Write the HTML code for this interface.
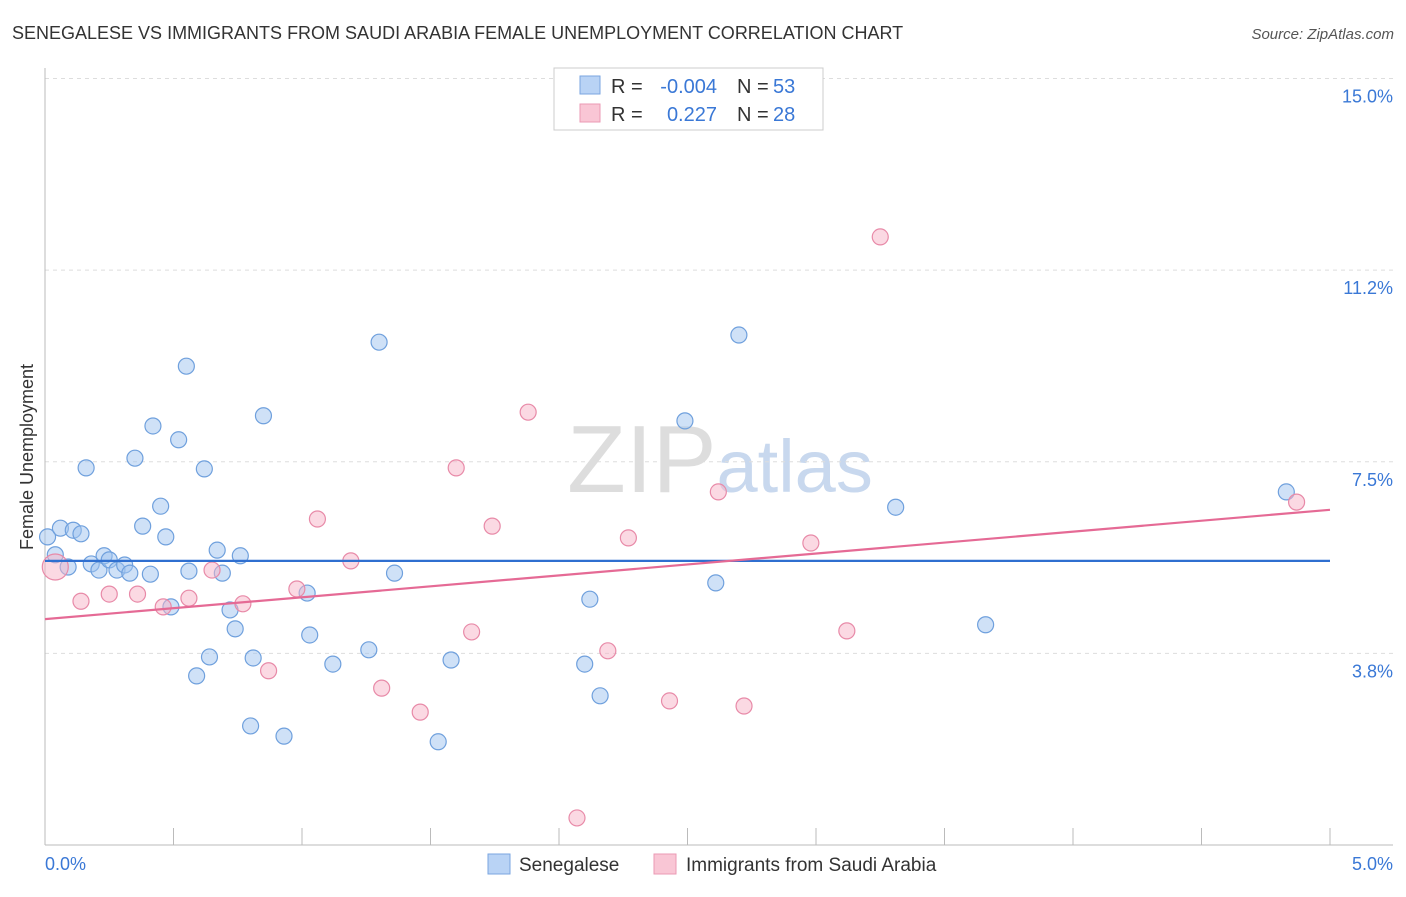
<!DOCTYPE html>
<html><head><meta charset="utf-8"><style>
body{margin:0;background:#fff;font-family:"Liberation Sans",sans-serif;}
svg text{font-family:"Liberation Sans",sans-serif;}
</style></head><body>
<svg id="chart" width="1406" height="892" xmlns="http://www.w3.org/2000/svg">
<text x="12" y="39" font-size="18" fill="#333">SENEGALESE VS IMMIGRANTS FROM SAUDI ARABIA FEMALE UNEMPLOYMENT CORRELATION CHART</text>
<text x="1394" y="39" font-size="15" fill="#555" text-anchor="end" font-style="italic">Source: ZipAtlas.com</text>
<text x="720" y="492" font-size="96" fill="#ddd" text-anchor="middle" font-family="Liberation Serif">ZIP<tspan fill="#c8d8ee" font-family="Liberation Sans" font-size="74">atlas</tspan></text>
<g id="grid"></g><g id="axes"></g><g id="marks"></g>
<text transform="translate(33,457) rotate(-90)" font-size="18" fill="#333" text-anchor="middle">Female Unemployment</text>
<g>
<rect x="554" y="68" width="269" height="62" fill="#fff" stroke="#ccc"/>
<rect x="580" y="76" width="20" height="18" fill="#b9d3f5" stroke="#7aa6e0"/>
<rect x="580" y="104" width="20" height="18" fill="#f9c6d5" stroke="#eb9ab4"/>
<text x="611" y="93" font-size="20" fill="#333">R =</text>
<text x="717" y="93" font-size="20" fill="#3a78d6" text-anchor="end">-0.004</text>
<text x="737" y="93" font-size="20" fill="#333">N =</text>
<text x="773" y="93" font-size="20" fill="#3a78d6">53</text>
<text x="611" y="121" font-size="20" fill="#333">R =</text>
<text x="717" y="121" font-size="20" fill="#3a78d6" text-anchor="end">0.227</text>
<text x="737" y="121" font-size="20" fill="#333">N =</text>
<text x="773" y="121" font-size="20" fill="#3a78d6">28</text>
</g>
<g>
<rect x="488" y="854" width="22" height="20" fill="#b9d3f5" stroke="#7aa6e0"/>
<text x="519" y="871" font-size="19" fill="#333">Senegalese</text>
<rect x="654" y="854" width="22" height="20" fill="#f9c6d5" stroke="#eb9ab4"/>
<text x="686" y="871" font-size="19" fill="#333">Immigrants from Saudi Arabia</text>
</g>
</svg>
<script>
const blueX=[0.01,0.04,0.06,0.09,0.11,0.14,0.16,0.18,0.21,0.23,0.25,0.28,0.31,0.33,0.35,0.38,0.41,0.42,0.45,0.47,0.49,0.52,0.55,0.56,0.59,0.62,0.64,0.67,0.69,0.72,0.74,0.76,0.80,0.81,0.85,0.93,1.02,1.03,1.12,1.26,1.30,1.36,1.53,1.58,2.10,2.12,2.16,2.49,2.61,2.70,3.31,3.66,4.83];
const blueY=[6.03,5.68,6.20,5.44,6.16,6.09,7.38,5.50,5.38,5.66,5.58,5.38,5.48,5.32,7.57,6.24,5.30,8.20,6.63,6.03,4.66,7.93,9.37,5.36,3.31,7.36,3.68,5.77,5.32,4.60,4.23,5.66,2.33,3.66,8.40,2.13,4.93,4.11,3.54,3.82,9.84,5.32,2.02,3.62,3.54,4.81,2.92,8.30,5.13,9.98,6.61,4.31,6.91];
const pinkX=[0.04,0.14,0.25,0.36,0.46,0.56,0.65,0.77,0.87,0.98,1.06,1.19,1.31,1.46,1.60,1.66,1.74,1.88,2.07,2.19,2.27,2.43,2.62,2.72,2.98,3.12,3.25,4.87];
const pinkY=[5.44,4.77,4.91,4.91,4.66,4.83,5.38,4.72,3.41,5.01,6.38,5.56,3.07,2.60,7.38,4.17,6.24,8.47,0.53,3.80,6.01,2.82,6.91,2.72,5.91,4.19,11.90,6.71];
const blueTrend=[5.56,5.56];
const pinkTrend=[4.42,6.56];
const yTicks=[3.75,7.5,11.25,15];
const yTickLabels=["3.8%","7.5%","11.2%","15.0%"];
const xTicks=[0,0.5,1,1.5,2,2.5,3,3.5,4,4.5,5];
const NS="http://www.w3.org/2000/svg";
const X=v=>45+v/5*1285, Y=v=>845-v*51.1;
function mk(p,t,a){const e=document.createElementNS(NS,t);for(const k in a)e.setAttribute(k,a[k]);p.appendChild(e);return e;}
const grid=document.getElementById('grid'),axes=document.getElementById('axes'),marks=document.getElementById('marks');
yTicks.forEach((v,i)=>{
 const l=mk(grid,'line',{x1:45,x2:1393,y1:Y(v),y2:Y(v),stroke:'#ddd','stroke-dasharray':'4,4'});
 
 
 const t=mk(axes,'text',{x:1393,y:Y(v)+24,'font-size':18,fill:'#3a78d6','text-anchor':'end'});t.textContent=yTickLabels[i];
 
 
});
mk(axes,'line',{x1:45,x2:45,y1:68,y2:845,stroke:'#bbb'});
const xa=mk(axes,'line',{x1:45,x2:1393,y1:845,y2:845,stroke:'#bbb'});


xTicks.forEach(v=>{const t=mk(axes,'line',{x1:X(v),x2:X(v),y1:828,y2:845,stroke:'#bbb'});
 
 });
let t0=mk(axes,'text',{x:45,y:870,'font-size':18,fill:'#3a78d6'});t0.textContent='0.0%';


let t1=mk(axes,'text',{x:1393,y:870,'font-size':18,fill:'#3a78d6','text-anchor':'end'});t1.textContent='5.0%';


blueX.forEach((v,i)=>{const c=mk(marks,'circle',{cx:X(v),cy:Y(blueY[i]),r:8,fill:'rgba(160,196,240,0.5)',stroke:'#6fa0dd','stroke-width':1.2});
 
 });
pinkX.forEach((v,i)=>{const c=mk(marks,'circle',{cx:X(v),cy:Y(pinkY[i]),r:i==0?13:8,fill:'rgba(248,180,200,0.5)',stroke:'#e88aa8','stroke-width':1.2});
 
 });
const bl=mk(marks,'line',{x1:X(0),x2:X(5),y1:Y(blueTrend[0]),y2:Y(blueTrend[1]),stroke:'#2f6fd0','stroke-width':2.2});


const pl=mk(marks,'line',{x1:X(0),x2:X(5),y1:Y(pinkTrend[0]),y2:Y(pinkTrend[1]),stroke:'#e56a95','stroke-width':2.2});


</script>
</body></html>
